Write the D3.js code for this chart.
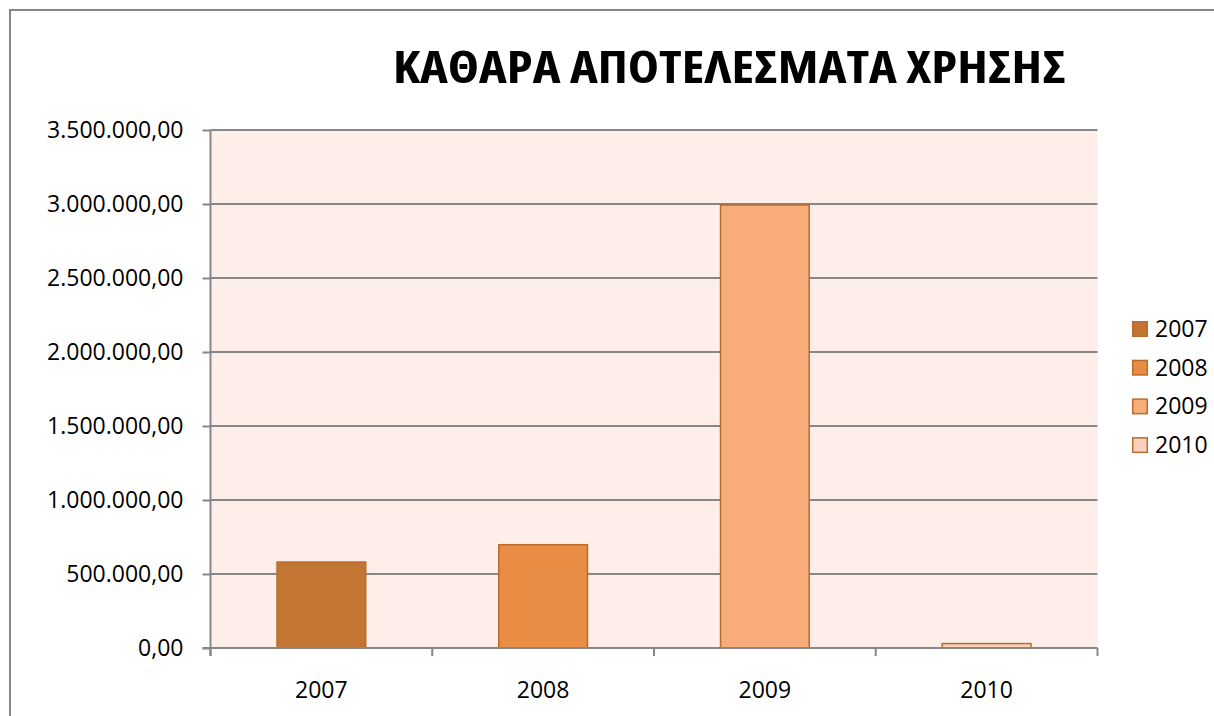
<!DOCTYPE html>
<html>
<head>
<meta charset="utf-8">
<script src="https://cdn.jsdelivr.net/npm/d3@7"></script>
<style>
  html, body { margin: 0; padding: 0; background: #ffffff; }
  svg { display: block; }
  text { font-family: "Open Sans", "Noto Sans", sans-serif; fill: #000; }
</style>
</head>
<body>
<svg id="chart" width="1214" height="716"></svg>
<script>
// Net results per fiscal year
const years = ["2007", "2008", "2009", "2010"];
const netResults = [581000, 698000, 2993000, 30000];
const yTicks = [0, 500000, 1000000, 1500000, 2000000, 2500000, 3000000, 3500000];
const barColors = ["#c37534", "#e88d43", "#f8ac7a", "#fbd1bc"];
const titleText = "ΚΑΘΑΡΑ ΑΠΟΤΕΛΕΣΜΑΤΑ ΧΡΗΣΗΣ";

const svg = d3.select("#chart");

// Plot area
const plot = { left: 210.5, right: 1097.5, top: 130, bottom: 648 };

// Greek-style number format: 3.500.000,00
const locale = d3.formatLocale({ decimal: ",", thousands: ".", grouping: [3], currency: ["", "€"] });
const fmt = locale.format(",.2f");

const x = d3.scaleBand()
  .domain(years)
  .range([plot.left, plot.right])
  .paddingInner(0.6)
  .paddingOuter(0.3);

const y = d3.scaleLinear()
  .domain([0, 3500000])
  .range([plot.bottom, plot.top]);

// Chart frame
svg.append("rect")
  .attr("x", 10).attr("y", 10)
  .attr("width", 1210).attr("height", 720)
  .attr("fill", "#ffffff")
  .attr("stroke", "#878787")
  .attr("stroke-width", 2);

// Plot background
svg.append("rect")
  .attr("x", plot.left).attr("y", plot.top)
  .attr("width", plot.right - plot.left)
  .attr("height", plot.bottom - plot.top)
  .attr("fill", "#fdeee9");

// Horizontal gridlines
svg.append("g")
  .selectAll("line")
  .data(yTicks.filter(d => d > 0))
  .join("line")
  .attr("x1", plot.left).attr("x2", plot.right)
  .attr("y1", d => y(d)).attr("y2", d => y(d))
  .attr("stroke", "#878787")
  .attr("stroke-width", 2);

// Bars
svg.append("g")
  .selectAll("rect")
  .data(years)
  .join("rect")
  .attr("x", d => x(d))
  .attr("width", x.bandwidth())
  .attr("y", (d, i) => y(netResults[i]))
  .attr("height", (d, i) => y(0) - y(netResults[i]))
  .attr("fill", (d, i) => barColors[i])
  .attr("stroke", "#ba6b2e")
  .attr("stroke-width", 1.5);

// Y axis
const yAxis = svg.append("g")
  .attr("transform", `translate(${plot.left},0)`)
  .call(d3.axisLeft(y).tickValues(yTicks).tickFormat(fmt).tickSize(8).tickPadding(19));
yAxis.select(".domain").attr("stroke", "#878787").attr("stroke-width", 2)
  .attr("d", `M0,${plot.top}V${plot.bottom + 8}`);
yAxis.selectAll(".tick line").attr("stroke", "#878787").attr("stroke-width", 2);
yAxis.selectAll(".tick text")
  .attr("font-size", 23)
  .attr("font-family", "'Open Sans', sans-serif")
  .attr("fill", "#000");

// X axis with category boundary ticks
const xAxis = svg.append("g")
  .attr("transform", `translate(0,${plot.bottom})`);
xAxis.append("line")
  .attr("x1", plot.left - 8).attr("x2", plot.right)
  .attr("stroke", "#878787").attr("stroke-width", 2);
const step = x.step();
const boundaries = d3.range(years.length + 1).map(i => plot.left + i * step);
xAxis.selectAll("line.bound")
  .data(boundaries)
  .join("line")
  .attr("class", "bound")
  .attr("x1", d => d).attr("x2", d => d)
  .attr("y1", 0).attr("y2", 8)
  .attr("stroke", "#878787").attr("stroke-width", 2);
xAxis.selectAll("text")
  .data(years)
  .join("text")
  .attr("x", d => x(d) + x.bandwidth() / 2)
  .attr("y", 50)
  .attr("text-anchor", "middle")
  .attr("font-size", 23)
  .text(d => d);

// Title (semi-condensed bold)
svg.append("text")
  .attr("x", 393)
  .attr("y", 83)
  .attr("font-size", 45)
  .attr("font-weight", 700)
  .style("font-stretch", "semi-condensed")
  .attr("textLength", 673)
  .attr("lengthAdjust", "spacingAndGlyphs")
  .text(titleText);

// Legend
const legend = svg.append("g");
const legendRows = legend.selectAll("g")
  .data(years)
  .join("g")
  .attr("transform", (d, i) => `translate(1132,${329 + i * 38.7})`);
legendRows.append("rect")
  .attr("x", 0.75).attr("y", -7.25)
  .attr("width", 14.5).attr("height", 14.5)
  .attr("fill", (d, i) => barColors[i])
  .attr("stroke", "#ba6b2e")
  .attr("stroke-width", 1.5);
legendRows.append("text")
  .attr("x", 23)
  .attr("y", 0)
  .attr("dy", "0.35em")
  .attr("font-size", 23)
  .text(d => d);
</script>
</body>
</html>
